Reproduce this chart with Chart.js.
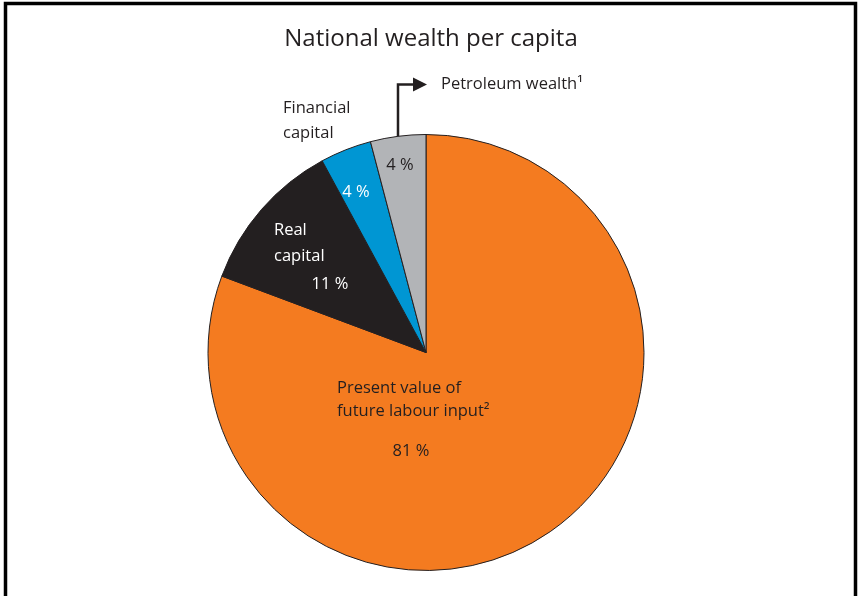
<!DOCTYPE html>
<html>
<head>
<meta charset="utf-8">
<script src="https://cdn.jsdelivr.net/npm/chart.js@4"></script>
<style>
  html, body { margin: 0; padding: 0; background: #fff; }
  #wrap { width: 859px; height: 596px; }
</style>
</head>
<body>
<div id="wrap"><canvas id="pieChart" width="859" height="596"></canvas></div>
<script>
const categories = ["Present value of future labour input", "Real capital", "Financial capital", "Petroleum wealth"];
const shares = [80.7, 11.4, 3.8, 4.1];
const shareLabels = ["81 %", "11 %", "4 %", "4 %"];
const colors = ["#F47B20", "#231F20", "#0096D3", "#B2B4B7"];

const ink = "#231F20";
const font = "'Open Sans', 'Noto Sans', sans-serif";

// text placed relative to the pie centre
const sliceText = [
  { lines: ["Present value of", "future labour input\u00B2"], dx: -89, dy: 36, gap: 23, align: "left", color: ink,
    pct: { dx: -15, dy: 99, color: ink } },
  { lines: ["Real", "capital"], dx: -152, dy: -122, gap: 26, align: "left", color: "#fff",
    pct: { dx: -96, dy: -68, color: "#fff" } },
  { lines: ["Financial", "capital"], dx: -143, dy: -244, gap: 25, align: "left", color: ink,
    pct: { dx: -70, dy: -160, color: "#fff" } },
  { lines: [], pct: { dx: -26, dy: -187, color: ink } }
];

const annotate = {
  id: "annotate",
  afterDraw(chart) {
    const c = chart.ctx;
    const arcs = chart.getDatasetMeta(0).data;
    const cx = arcs[0].x, cy = arcs[0].y, R = arcs[0].outerRadius;

    c.save();
    // frame
    c.strokeStyle = "#000";
    c.lineWidth = 3.5;
    c.beginPath();
    c.moveTo(5.5, 700);
    c.lineTo(5.5, 3.5);
    c.lineTo(855.5, 3.5);
    c.lineTo(855.5, 700);
    c.stroke();

    // title
    c.fillStyle = ink;
    c.font = "24px " + font;
    c.textAlign = "center";
    c.textBaseline = "middle";
    c.fillText("National wealth per capita", 431, 39);

    c.font = "16.5px " + font;
    sliceText.forEach((t, i) => {
      c.fillStyle = t.color;
      c.textAlign = t.align || "left";
      t.lines.forEach((ln, k) => c.fillText(ln, cx + t.dx, cy + t.dy + k * t.gap));
      c.fillStyle = t.pct.color;
      c.textAlign = "center";
      c.fillText(shareLabels[i], cx + t.pct.dx, cy + t.pct.dy);
    });

    // arrow from petroleum slice
    const a = arcs[3];
    const mid = (a.startAngle + a.endAngle) / 2;
    const x0 = cx + R * Math.cos(mid);
    const y0 = cy + R * Math.sin(mid);
    const yTop = cy - R - 50;
    c.strokeStyle = ink;
    c.lineWidth = 2.5;
    c.beginPath();
    c.moveTo(x0, y0);
    c.lineTo(x0, yTop);
    c.lineTo(x0 + 16, yTop);
    c.stroke();
    c.fillStyle = ink;
    c.beginPath();
    c.moveTo(x0 + 15, yTop - 7);
    c.lineTo(x0 + 29, yTop);
    c.lineTo(x0 + 15, yTop + 7);
    c.closePath();
    c.fill();
    c.textAlign = "left";
    c.fillText("Petroleum wealth\u00B9", x0 + 43, yTop);
    c.restore();
  }
};

new Chart(document.getElementById("pieChart"), {
  type: "pie",
  data: {
    labels: categories,
    datasets: [{
      data: shares,
      backgroundColor: colors,
      borderColor: ink,
      borderWidth: 1,
      hoverOffset: 0
    }]
  },
  options: {
    responsive: false,
    animation: false,
    layout: { padding: { top: 134, bottom: 25, left: 0, right: 7 } },
    plugins: {
      legend: { display: false },
      tooltip: { enabled: false },
      title: { display: false }
    }
  },
  plugins: [annotate]
});
</script>
</body>
</html>
